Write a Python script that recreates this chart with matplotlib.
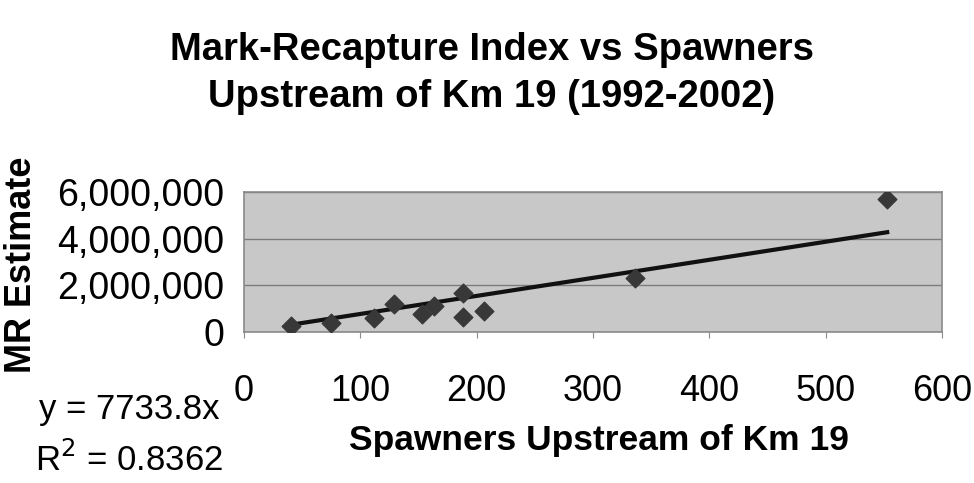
import numpy as np
import matplotlib
matplotlib.use("Agg")
import matplotlib.pyplot as plt
from matplotlib.ticker import FuncFormatter

# values
spawners = [40, 75, 112, 129, 153, 163, 188, 188, 206, 336, 553]
mr_estimate = [250000, 380000, 610000, 1200000, 770000, 1110000,
               1660000, 660000, 910000, 2330000, 5700000]
slope = 7733.8
r2 = 0.8362
x_ticks = [0, 100, 200, 300, 400, 500, 600]
y_ticks = [0, 2000000, 4000000, 6000000]

title = "Mark-Recapture Index vs Spawners\nUpstream of Km 19 (1992-2002)"

plt.rcParams["font.family"] = ["Liberation Sans", "DejaVu Sans"]

fig = plt.figure(figsize=(9.74, 4.83), dpi=100)
ax = fig.add_axes([0.2505, 0.3126, 0.7165, 0.2899])

ax.set_facecolor("#c8c8c8")
for s in ax.spines.values():
    s.set_color("#8a8a8a")
    s.set_linewidth(1.2)

ax.scatter(spawners, mr_estimate, marker="D", s=90, color="#383838", zorder=3)

# trendline through origin, y = 7733.8x, over the data range
xs = np.array([min(spawners), max(spawners)])
ax.plot(xs, slope * xs, color="#111111", lw=3, zorder=2)

ax.set_xlim(0, 600)
ax.set_ylim(0, 6000000)
ax.set_xticks(x_ticks)
ax.set_yticks(y_ticks)
ax.yaxis.set_major_formatter(FuncFormatter(lambda v, p: f"{int(v):,}"))
ax.grid(axis="y", color="#7c7c7c", lw=1)
ax.set_axisbelow(True)
ax.tick_params(axis="x", length=4, color="#8a8a8a", pad=26, labelsize=26)
ax.tick_params(axis="y", length=0, pad=14, labelsize=27)

fig.text(0.505, 0.848, title, ha="center", va="center", fontsize=27.5,
         fontweight="bold", linespacing=1.4)
fig.text(0.022, 0.451, "MR Estimate", rotation=90, ha="center", va="center",
         fontsize=26, fontweight="bold")
fig.text(0.615, 0.088, "Spawners Upstream of Km 19", ha="center", va="center",
         fontsize=25.5, fontweight="bold")
fig.text(0.133, 0.152, f"y = {slope}x", ha="center", va="center", fontsize=25)
fig.text(0.133, 0.048, f"R$^2$ = {r2}", ha="center", va="center", fontsize=25)

fig.savefig("out.png", dpi=100)
